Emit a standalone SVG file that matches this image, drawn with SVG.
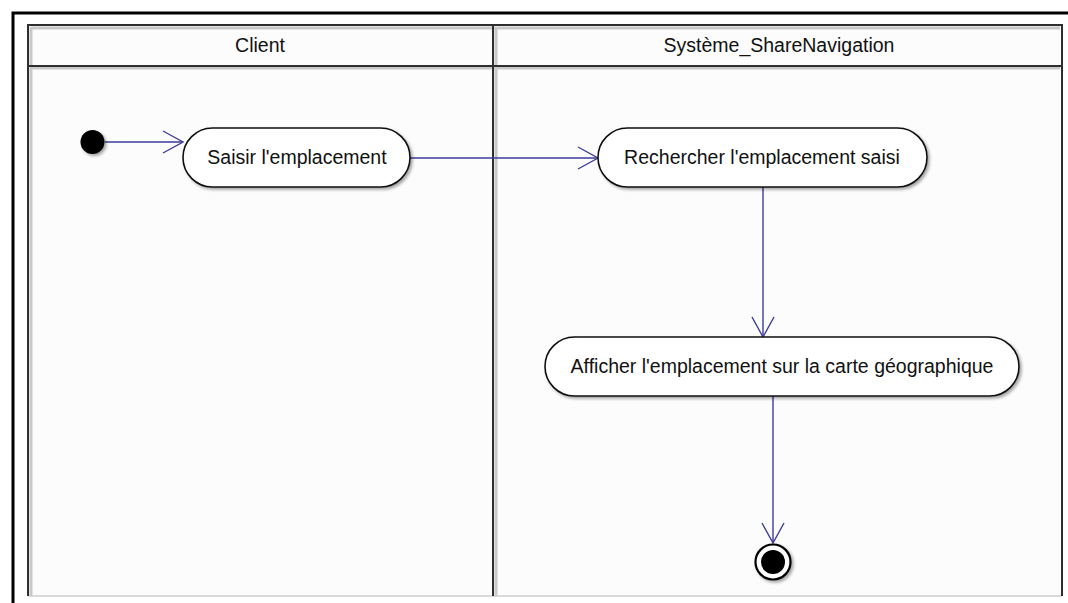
<svg xmlns="http://www.w3.org/2000/svg" width="1068" height="603" viewBox="0 0 1068 603">
  <style>
    .frame { fill: none; stroke: #000; stroke-width: 3; }
    .lane { stroke: #2e2e2e; stroke-width: 2; fill: none; }
    .lane-shade { stroke: #c8c8c8; stroke-width: 3; fill: none; }
    .title { font-family: "Liberation Sans", Arial, sans-serif; font-size: 19.5px; fill: #111; text-anchor: middle; }
    .action { fill: #fff; stroke: #111; stroke-width: 1.6; }
    .label { font-family: "Liberation Sans", Arial, sans-serif; font-size: 19.5px; fill: #111; text-anchor: middle; }
    .flow { stroke: #3c3c9c; stroke-width: 1.4; fill: none; }
  </style>
  <defs>
    <marker id="open-arrow" viewBox="0 0 22 24" refX="21" refY="12" markerWidth="22" markerHeight="24" markerUnits="userSpaceOnUse" orient="auto">
      <path d="M1,1 L21,12 L1,23" fill="none" stroke="#3c3c9c" stroke-width="1.4"/>
    </marker>
    <filter id="shadow" x="-10%" y="-20%" width="130%" height="150%">
      <feDropShadow dx="2" dy="2" stdDeviation="1.5" flood-color="#000" flood-opacity="0.35"/>
    </filter>
  </defs>

  <!-- page background -->
  <rect x="0" y="0" width="1068" height="603" fill="#fff"/>

  <!-- outer frame -->
  <path class="frame" d="M13,603 L13,13 L1068,13"/>

  <!-- swimlane partitions -->
  <g id="swimlanes">
    <rect x="28" y="25" width="1034" height="571" fill="#fcfcfc"/>
    <path class="lane-shade" d="M31,27 L31,596 M31,68 L1060,68 M496,27 L496,596 M31,28 L1060,28"/>
    <line x1="28" y1="596" x2="1062" y2="596" stroke="#cfcfcf" stroke-width="1.5"/>
    <path class="lane" d="M28,596 L28,25 L1062,25 L1062,596"/>
    <line class="lane" x1="28" y1="66" x2="1062" y2="66"/>
    <line class="lane" x1="493" y1="25" x2="493" y2="596"/>
    <text class="title" x="260" y="52">Client</text>
    <text class="title" x="779" y="52">Système_ShareNavigation</text>
  </g>

  <!-- control flows -->
  <g id="connectors">
    <line class="flow" x1="105" y1="142" x2="183" y2="142" marker-end="url(#open-arrow)"/>
    <line class="flow" x1="410" y1="158" x2="598" y2="158" marker-end="url(#open-arrow)"/>
    <line class="flow" x1="763" y1="187" x2="763" y2="337" marker-end="url(#open-arrow)"/>
    <line class="flow" x1="773" y1="396" x2="773" y2="543" marker-end="url(#open-arrow)"/>
  </g>

  <!-- initial node -->
  <g id="initial">
    <circle cx="92.5" cy="142" r="12" fill="#000" filter="url(#shadow)"/>
  </g>

  <!-- actions -->
  <g id="saisir">
    <rect class="action" x="183" y="128" width="227" height="59" rx="29.5" filter="url(#shadow)"/>
    <text class="label" x="297" y="164">Saisir l'emplacement</text>
  </g>
  <g id="rechercher">
    <rect class="action" x="598" y="128" width="329" height="59" rx="29.5" filter="url(#shadow)"/>
    <text class="label" x="762" y="164">Rechercher l'emplacement saisi</text>
  </g>
  <g id="afficher">
    <rect class="action" x="545" y="337" width="474" height="59" rx="29.5" filter="url(#shadow)"/>
    <text class="label" x="782" y="373">Afficher l'emplacement sur la carte géographique</text>
  </g>

  <!-- final node -->
  <g id="final">
    <circle cx="773" cy="562" r="17.5" fill="#fff" stroke="#000" stroke-width="2.2" filter="url(#shadow)"/>
    <circle cx="773" cy="562" r="12" fill="#000"/>
  </g>
</svg>
